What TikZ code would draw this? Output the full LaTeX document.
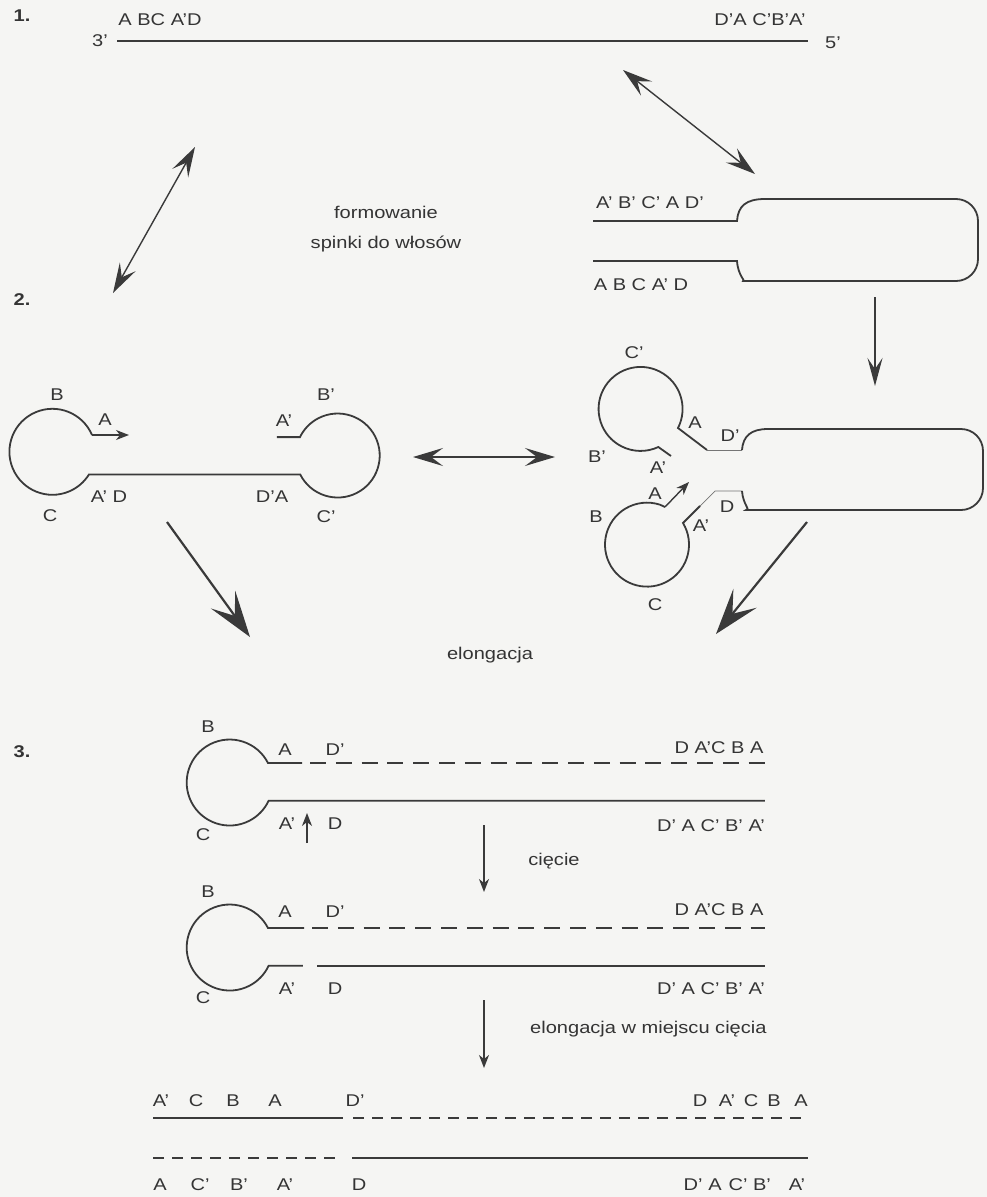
\documentclass[tikz,border=0pt]{standalone}
\usepackage{fontspec}
\setmainfont[FakeStretch=1.18]{Liberation Sans}
\usetikzlibrary{arrows.meta}
\definecolor{bg}{RGB}{245,245,243}
\definecolor{ink}{RGB}{58,58,58}
\definecolor{txt}{RGB}{52,52,52}
\newcommand\lblfont{\fontsize{17}{20}\selectfont}
\begin{document}
\begin{tikzpicture}[x=1pt,y=1pt,
 strand/.style={draw=ink, line width=1.8pt},
 thinstrand/.style={draw=ink!70, line width=0.7pt},
 dashstrand/.style={draw=ink, line width=1.8pt, dash pattern=on 16pt off 9.8pt},
 dashfin/.style={draw=ink, line width=1.8pt, dash pattern=on 11pt off 8pt},
 lab/.style={inner sep=0pt, text=txt, font=\lblfont},
 numlab/.style={inner sep=0pt, text=txt, font=\lblfont\bfseries},
 dblarr/.style={draw=ink, line width=1.4pt, arrows={Stealth[length=30pt,width=18pt,inset=12pt]-Stealth[length=30pt,width=18pt,inset=12pt]}},
 bigarr/.style={draw=ink, line width=2.2pt, arrows={-Stealth[length=46pt,width=30pt,inset=20pt]}},
 midarr/.style={draw=ink, line width=1.6pt, arrows={-Stealth[length=28pt,width=15pt,inset=11pt]}},
 smallarr/.style={draw=ink, line width=1.4pt, arrows={-Stealth[length=13pt,width=10pt,inset=4pt]}},
]
\fill[bg] (0,0) rectangle (987,-1197);
\useasboundingbox (0,0) rectangle (987,-1197);

% ---------- stage 1
\node[numlab] (n1) at (22,-16) {1.};
\node[lab] (l3) at (100,-41) {3'};
\node[lab] (l5) at (833,-43) {5'};
\coordinate (s1a) at (117,-41);
\coordinate (s1b) at (808,-41);
\draw[strand] (s1a) -- (s1b);
\node[lab] (t1a) at (160,-20) {A BC A'D};
\node[lab] (t1b) at (760,-20) {D'A C'B'A'};

\coordinate (d1a) at (195,-147);
\coordinate (d1b) at (113,-293);
\draw[dblarr] (d1a) -- (d1b);
\coordinate (d2a) at (623,-70);
\coordinate (d2b) at (755,-174);
\draw[dblarr] (d2a) -- (d2b);

\node[lab, anchor=base] (form1) at (386,-218) {formowanie};
\node[lab, anchor=base] (form2) at (386,-248) {spinki do włosów};

% hairpin (stage 1, right)
\draw[strand] (593,-221) -- (737,-221) .. controls (738,-206) and (746,-199) .. (765,-199)
  [rounded corners=22pt] -- (978,-199) -- (978,-281) -- (765,-281)
  [sharp corners] .. controls (746,-281) and (738,-276) .. (737,-261) -- (593,-261);
\node[lab] (t1c) at (650,-203) {A' B' C' A D'};
\node[lab] (t1d) at (641,-285) {A B C A' D};

\coordinate (v1a) at (875,-297);
\coordinate (v1b) at (875,-386);
\draw[midarr] (v1a) -- (v1b);

% ---------- stage 2
\node[numlab] (n2) at (22,-300) {2.};
\draw[strand] (92,-435) arc[start angle=23,end angle=328,radius=43] -- ++(211.4,0)
  arc[start angle=-153,end angle=154,radius=42] -- ++(-23,0);
\coordinate (a2s) at (92,-435);
\coordinate (a2e) at (129,-435);
\draw[smallarr] (a2s) -- (a2e);
\node[lab] (b2B) at (57,-395) {B};
\node[lab] (b2A) at (105,-420) {A};
\node[lab] (b2C) at (50,-516) {C};
\node[lab] (b2AD) at (109,-497) {A' D};
\node[lab] (b2DA) at (272,-497) {D'A};
\node[lab] (b2Ap) at (284,-421) {A'};
\node[lab] (b2Bp) at (326,-395) {B'};
\node[lab] (b2Cp) at (326,-517) {C'};

\coordinate (h1a) at (413,-457);
\coordinate (h1b) at (555,-457);
\draw[dblarr] (h1a) -- (h1b);

% stage 2 right structure
\draw[thinstrand] (707,-450) -- (742,-450);
\draw[strand] (707,-450) -- (678,-428) arc[start angle=-27,end angle=295,radius=42] -- (671,-456);
\draw[thinstrand] (742,-491) -- (715,-491) -- (700,-506);
\draw[strand] (700,-506) -- (683,-523) arc[start angle=31,end angle=-288,radius=42] -- (665,-507);
\coordinate (a3s) at (665,-507);
\coordinate (a3e) at (689,-482);
\draw[smallarr] (a3s) -- (a3e);
\draw[strand] (742,-450) .. controls (743,-436) and (751,-429) .. (768,-429)
  [rounded corners=22pt] -- (983,-429) -- (983,-510) -- (768,-510)
  [sharp corners] .. controls (751,-510) and (743,-505) .. (742,-491);
\node[lab] (c2Cp) at (634,-353) {C'};
\node[lab] (c2A) at (695,-423) {A};
\node[lab] (c2Dp) at (730,-436) {D'};
\node[lab] (c2Bp) at (597,-457) {B'};
\node[lab] (c2Ap) at (658,-468) {A'};
\node[lab] (c2A2) at (655,-494) {A};
\node[lab] (c2B) at (596,-517) {B};
\node[lab] (c2D) at (727,-507) {D};
\node[lab] (c2Ap2) at (701,-526) {A'};
\node[lab] (c2C) at (655,-605) {C};

\coordinate (g1a) at (167,-522);
\coordinate (g1b) at (250,-637);
\draw[bigarr] (g1a) -- (g1b);
\coordinate (g2a) at (807,-522);
\coordinate (g2b) at (716,-634);
\draw[bigarr] (g2a) -- (g2b);
\node[lab] (elong) at (490,-655) {elongacja};

% ---------- stage 3
\node[numlab] (n3) at (22,-752) {3.};
\draw[strand] (302,-763) -- (268,-763) arc[start angle=27,end angle=335,radius=43] -- ++(496.3,0);
\draw[dashstrand] (310,-763) -- (765,-763);
\node[lab] (e1B) at (208,-727) {B};
\node[lab] (e1A) at (285,-750) {A};
\node[lab] (e1Dp) at (335,-750) {D'};
\node[lab] (e1C) at (203,-835) {C};
\node[lab] (e1Ap) at (287,-824) {A'};
\node[lab] (e1D) at (335,-824) {D};
\coordinate (u1a) at (307,-843);
\coordinate (u1b) at (307,-813);
\draw[smallarr] (u1a) -- (u1b);
\node[lab] (e1r1) at (719,-748) {D A'C B A};
\node[lab] (e1r2) at (711,-826) {D' A C' B' A'};

\coordinate (k1a) at (484,-825);
\coordinate (k1b) at (484,-892);
\draw[smallarr] (k1a) -- (k1b);
\node[lab, anchor=base] (ciec) at (554,-865) {cięcie};

\draw[strand] (304,-928) -- (268,-928) arc[start angle=27,end angle=335,radius=43] -- ++(34.3,0);
\draw[strand] (317,-965.69) -- (765,-965.69);
\draw[dashstrand] (312,-928) -- (765,-928);
\node[lab] (e2B) at (208,-892) {B};
\node[lab] (e2A) at (285,-912) {A};
\node[lab] (e2Dp) at (335,-912) {D'};
\node[lab] (e2C) at (203,-998) {C};
\node[lab] (e2Ap) at (287,-989) {A'};
\node[lab] (e2D) at (335,-989) {D};
\node[lab] (e2r1) at (719,-910) {D A'C B A};
\node[lab] (e2r2) at (711,-989) {D' A C' B' A'};

\coordinate (k2a) at (484,-1000);
\coordinate (k2b) at (484,-1068);
\draw[smallarr] (k2a) -- (k2b);
\node[lab, anchor=base west] (elong2) at (530,-1033) {elongacja w miejscu cięcia};

% final duplex
\draw[strand] (153,-1118) -- (343,-1118);
\draw[dashfin] (353,-1118) -- (808,-1118);
\draw[dashfin] (153,-1158) -- (343,-1158);
\draw[strand] (352,-1158) -- (808,-1158);
\node[lab] (f1) at (161,-1101) {A'};
\node[lab] (f2) at (196,-1101) {C};
\node[lab] (f3) at (233,-1101) {B};
\node[lab] (f4) at (275,-1101) {A};
\node[lab] (f5) at (355,-1101) {D'};
\node[lab] (f6) at (700,-1101) {D};
\node[lab] (f7) at (727,-1101) {A'};
\node[lab] (f8) at (751,-1101) {C};
\node[lab] (f9) at (774,-1101) {B};
\node[lab] (f10) at (801,-1101) {A};
\node[lab] (g1) at (160,-1185) {A};
\node[lab] (g2) at (200,-1185) {C'};
\node[lab] (g3) at (239,-1185) {B'};
\node[lab] (g4) at (285,-1185) {A'};
\node[lab] (g5) at (359,-1185) {D};
\node[lab] (g6) at (693,-1185) {D'};
\node[lab] (g7) at (715,-1185) {A};
\node[lab] (g8) at (738,-1185) {C'};
\node[lab] (g9) at (762,-1185) {B'};
\node[lab] (g10) at (797,-1185) {A'};
\end{tikzpicture}
\end{document}
